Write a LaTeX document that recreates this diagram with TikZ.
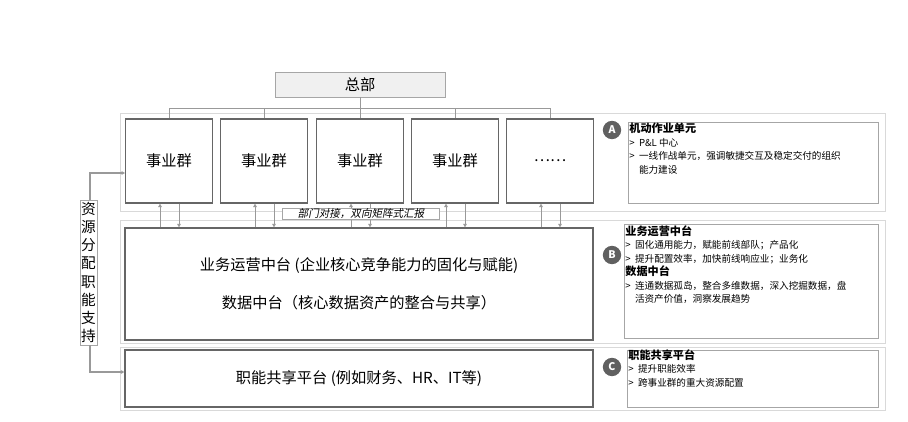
\documentclass[tikz,border=0pt]{standalone}
\usepackage{fontspec}
\setmainfont{Noto Sans CJK SC}
\newfontfamily\slantcjk[FakeSlant=0.2]{Noto Sans CJK SC}
\usetikzlibrary{positioning,arrows.meta}
\definecolor{frameG}{gray}{0.85}
\definecolor{boxG}{gray}{0.4}
\begin{document}
\begin{tikzpicture}[x=0.03cm,y=-0.03cm,>={Triangle[length=3pt,width=3pt]},
    Panel/.style={draw=frameG,line width=0.8pt},
    Unit/.style={draw=boxG,line width=1pt,minimum width=2.6cm,minimum height=2.52cm,font=\fontsize{13}{15}\selectfont},
    Note/.style={anchor=north west,inner sep=1pt,align=left,font=\fontsize{8.2}{11.5}\selectfont},
    Head/.style={font=\bfseries\fontsize{9.5}{12}\selectfont},
    Badge/.style={circle,fill=gray!75!black,text=white,inner sep=0pt,minimum size=0.55cm,font=\bfseries\fontsize{9}{9}\selectfont},
    link/.style={draw=gray!80,line width=0.6pt}
  ]
  \useasboundingbox (0,0) rectangle (908,421);
  % panels
  \draw[Panel] (120,113) rectangle (885,211);
  \draw[Panel] (120,220) rectangle (885,343);
  \draw[Panel] (120,347) rectangle (885,410);
  % head office
  \node[draw=gray!70,fill=gray!12,minimum width=5.1cm,minimum height=0.75cm,font=\fontsize{13}{15}\selectfont] (hq) at (360,84.5) {总部};
  % business groups
  \foreach \n/\x/\t in {1/169/事业群,2/264/事业群,3/360/事业群,4/455/事业群,5/550/\dots\dots}
    \node[Unit] (bg\n) at (\x,161) {\t};
  \coordinate (bus) at (360,108);
  \draw[link] (hq.south) -- (bus);
  \draw[link] (bg1.north |- bus) -- (bg5.north |- bus);
  \foreach \n in {1,...,5} \draw[link] (bg\n.north |- bus) -- (bg\n.north);
  % platforms
  \node[Unit,minimum width=14.04cm,minimum height=3.36cm,align=center,font=\fontsize{13}{32}\selectfont] (ops) at (359,284)
    {业务运营中台 (企业核心竞争能力的固化与赋能)\\数据中台（核心数据资产的整合与共享）};
  \node[Unit,minimum width=14.04cm,minimum height=1.71cm] (fun) at (359,378.5)
    {职能共享平台 (例如财务、HR、IT等)};
  \foreach \n in {1,...,5}{
    \draw[link,->] ([xshift=-0.27cm]bg\n.south |- ops.north) -- ([xshift=-0.27cm]bg\n.south);
    \draw[link,->] ([xshift=0.3cm]bg\n.south) -- ([xshift=0.3cm]bg\n.south |- ops.north);
  }
  \node[draw=gray!70,fill=white,inner sep=0.5pt,minimum width=4.7cm,font=\slantcjk\fontsize{9}{10}\selectfont] (rep) at (361,213.5) {部门对接，双向矩阵式汇报};
  % resources
  \node[draw=gray!70,fill=white,inner sep=1pt,minimum width=0.5cm,minimum height=4.35cm,align=center,font=\fontsize{12.5}{15.5}\selectfont] (res) at (88.5,272.5)
    {资\\源\\分\\配\\职\\能\\支\\持};
  \coordinate (ra) at (90,173);
  \coordinate (rb) at (90,372);
  \draw[link,line width=1pt,->] (res.north -| ra) -- (ra) -- (bg1.west |- ra);
  \draw[link,line width=1pt,->] (res.south -| rb) -- (rb) -- (fun.west |- rb);
  % notes
  \node[Badge] (ba) at (612,130) {A};
  \node[Badge] (bb) at (612,255) {B};
  \node[Badge] (bc) at (612,367) {C};
  \draw[draw=gray!70,line width=0.5pt] (628,122) rectangle (878,203);
  \draw[draw=gray!70,line width=0.5pt] (624,224) rectangle (878,338);
  \draw[draw=gray!70,line width=0.5pt] (627,350) rectangle (878,407);
  \node[Note] (na) at (628,122)
    {{\bfseries\fontsize{9.5}{12}\selectfont 机动作业单元}\\ > \ P\&L 中心\\ > \ 一线作战单元，强调敏捷交互及稳定交付的组织\\ \hspace{1em}能力建设};
  \node[Note] (nb) at (624,224)
    {{\bfseries\fontsize{9.5}{12}\selectfont 业务运营中台}\\ > \ 固化通用能力，赋能前线部队；产品化\\ > \ 提升配置效率，加快前线响应业；业务化\\ {\bfseries\fontsize{9.5}{12}\selectfont 数据中台}\\ > \ 连通数据孤岛，整合多维数据，深入挖掘数据，盘\\ \hspace{1em}活资产价值，洞察发展趋势};
  \node[Note] (nc) at (627,348)
    {{\bfseries\fontsize{9.5}{12}\selectfont 职能共享平台}\\ > \ 提升职能效率\\ > \ 跨事业群的重大资源配置};
\end{tikzpicture}
\end{document}
